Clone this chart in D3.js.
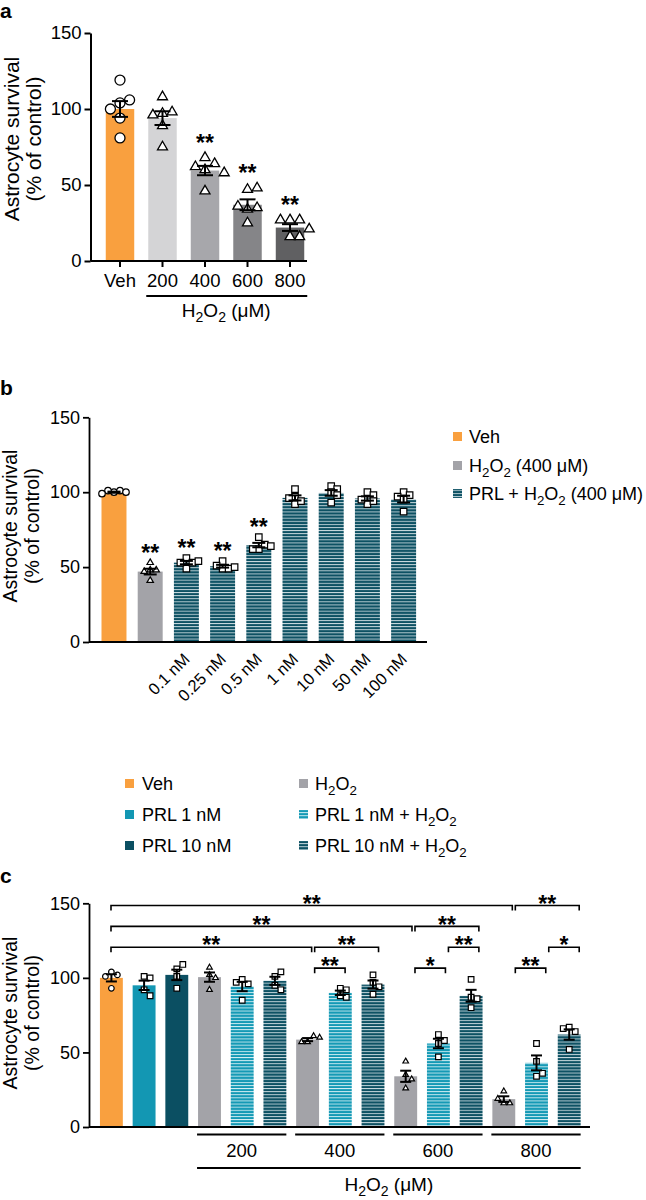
<!DOCTYPE html>
<html><head><meta charset="utf-8">
<script src="https://cdn.jsdelivr.net/npm/d3@7"></script>
<style>
body{margin:0;background:#fff;}
svg{display:block;font-family:"Liberation Sans",Arial,Helvetica,sans-serif;}
</style></head><body>
<svg id="chart" width="646" height="1200"></svg>
<script>
// ---------- Panel a data ----------
const aCategories = ["Veh","200","400","600","800"];
const aMeans = [100, 94, 59.5, 37, 22];
const aPoints = [
  [119,104,106,100,94,81],
  [108,97,98,96,89,75],
  [68,64,62,60,58,46],
  [47,48,34,35,36,25],
  [27,27,27,16,16,21]
];
const aSig = ["","","**","**","**"];
const aShapes = ["circle","triangle","triangle","triangle","triangle"];
const aColors = ["#F9A03F","#D4D4D6","#A7A7AB","#858588","#606062"];
const yTicks = [0,50,100,150];

// ---------- Panel b data ----------
const bCategories = ["Veh","H2O2","0.1 nM","0.25 nM","0.5 nM","1 nM","10 nM","50 nM","100 nM"];
const bLabels = ["","","0.1 nM","0.25 nM","0.5 nM","1 nM","10 nM","50 nM","100 nM"];
const bGroups = ["veh","h2o2","prl10h","prl10h","prl10h","prl10h","prl10h","prl10h","prl10h"];
const bMeans = [100, 47, 53, 50.6, 64.7, 96.2, 99.5, 95.8, 95.4];
const bPoints = [
  [100,101,101,100,99],
  [53,48,48,47,41],
  [56,49,53,53,54],
  [54,49,49,51,50],
  [70,62,65,62,64],
  [102,97,92,94,96],
  [104,102,100,93,98],
  [100,92,98,94,95],
  [100,98,97,87,95]
];
const bSig = ["","**","**","**","**","","","",""];
const bLegend = ["Veh","H2O2 (400 μM)","PRL + H2O2 (400 μM)"];
const bLegendGroups = ["veh","h2o2","prl10h"];

// ---------- Panel c data ----------
const cCategories = ["Veh","PRL 1 nM","PRL 10 nM",
  "H2O2 200","PRL 1 nM + H2O2 200","PRL 10 nM + H2O2 200",
  "H2O2 400","PRL 1 nM + H2O2 400","PRL 10 nM + H2O2 400",
  "H2O2 600","PRL 1 nM + H2O2 600","PRL 10 nM + H2O2 600",
  "H2O2 800","PRL 1 nM + H2O2 800","PRL 10 nM + H2O2 800"];
const cGroups = ["veh","prl1","prl10","h2o2","prl1h","prl10h","h2o2","prl1h","prl10h","h2o2","prl1h","prl10h","h2o2","prl1h","prl10h"];
const cMeans = [100, 95, 102, 100.5, 94.2, 98, 58.6, 90, 95.5, 34, 56, 88, 18.7, 43, 62];
const cPoints = [
  [104,102,101,93],
  [101,100,92,88],
  [106,109,93,101],
  [107,102,100,92],
  [99,96,97,85],
  [101,104,95,92],
  [57,61,57,60],
  [93,92,88,87],
  [102,97,94,89],
  [44,35,32,26],
  [62,58,56,47],
  [99,87,86,80],
  [24,16,16,19],
  [56,44,34,36],
  [67,64,66,52]
];
const cDoses = ["200","400","600","800"];
// [fromIndex, toIndex, label, level]
const cComparisons = [
  [6,7,"**",0],[9,10,"*",0],[12,13,"**",0],
  [0,6,"**",1],[6,8,"**",1],[10,11,"**",1],[13,14,"*",1],
  [0,9,"**",2],[9,11,"**",2],
  [0,12,"**",3],[12,14,"**",3]
];
const cLegendCol1 = ["Veh","PRL 1 nM","PRL 10 nM"];
const cLegendCol1Groups = ["veh","prl1","prl10"];
const cLegendCol2 = ["H2O2","PRL 1 nM + H2O2","PRL 10 nM + H2O2"];
const cLegendCol2Groups = ["h2o2","prl1h","prl10h"];

// ---------- styles ----------
const groupFill = {
  veh:"#F9A03F", h2o2:"#A3A3A8", prl1:"#1397B3", prl10:"#0B4F62",
  prl1h:"url(#stripeCyan)", prl10h:"url(#stripeDark)"
};
const groupShape = {veh:"circle", h2o2:"triangle", prl1:"square", prl10:"square", prl1h:"square", prl10h:"square"};

const svg = d3.select("#chart");
const defs = svg.append("defs");
function stripe(id, base, line) {
  const p = defs.append("pattern").attr("id", id).attr("patternUnits","userSpaceOnUse")
    .attr("width", 6).attr("height", 3.1);
  p.append("rect").attr("width",6).attr("height",3.1).attr("fill",base);
  p.append("rect").attr("width",6).attr("height",0.9).attr("fill",line);
}
stripe("stripeDark","#0D5163","#c9d9de");
stripe("stripeCyan","#1499B5","#d3eef3");

// text with H2O2 subscripts
function richText(sel, s, fs) {
  const segs = [];
  s.split("H2O2").forEach((p, i) => {
    if (i > 0) segs.push(["H",0],["2",1],["O",0],["2",1]);
    if (p) segs.push([p,0]);
  });
  const sh = fs*0.26;
  let cur = 0;
  segs.forEach(([t, sub]) => {
    const ts = sel.append("tspan").text(t);
    if (sub) ts.attr("font-size", fs*0.74);
    if (sub !== cur) ts.attr("dy", sub ? sh : -sh);
    cur = sub;
  });
}

function symbolPath(shape, s) {
  if (shape === "circle") return d3.symbol(d3.symbolCircle, Math.PI*(s/2)*(s/2))();
  if (shape === "square") return d3.symbol(d3.symbolSquare, s*s)();
  return d3.symbol(d3.symbolTriangle, Math.sqrt(3)/4*s*s)();
}

function dodge(values, y, d) {
  const placed = [];
  const cands = [0];
  for (let j = 1; j < 10; j++) cands.push(j*d, -j*d);
  return values.map(v => {
    const py = y(v);
    let off = 0;
    for (const c of cands) {
      if (placed.every(p => Math.hypot(p.x - c, p.y - py) >= d - 0.01)) { off = c; break; }
    }
    placed.push({x: off, y: py});
    return off;
  });
}
const sem = a => d3.deviation(a) / Math.sqrt(a.length);

function yAxis(g, y, axisX, fs, sw) {
  const ax = g.append("g").attr("transform", `translate(${axisX},0)`)
    .call(d3.axisLeft(y).tickValues(yTicks).tickSize(6).tickPadding(3).tickSizeOuter(0));
  ax.attr("font-family",null);
  ax.select(".domain").attr("stroke","#000").attr("stroke-width",sw);
  ax.selectAll(".tick line").attr("stroke","#000").attr("stroke-width",sw);
  ax.selectAll(".tick text").attr("font-size",fs).attr("fill","#000");
}

function yTitle(g, cy, x1, x2, fs) {
  g.append("text").attr("transform",`translate(${x1},${cy}) rotate(-90)`)
    .attr("text-anchor","middle").attr("font-size",fs).text("Astrocyte survival");
  g.append("text").attr("transform",`translate(${x2},${cy}) rotate(-90)`)
    .attr("text-anchor","middle").attr("font-size",fs).text("(% of control)");
}

const STAR = 23;
function stars(g, cx, cy, lab) {
  g.append("text").attr("x", cx).attr("y", cy + 0.57*STAR)
    .attr("text-anchor","middle").attr("font-size",STAR).attr("font-weight","bold").text(lab);
}

function drawBars(g, x, y, means, points, fills, shapes, opt) {
  const bw = x.bandwidth();
  const cats = x.domain();
  cats.forEach((c, i) => {
    g.append("rect").attr("x", x(c)).attr("y", y(means[i]))
      .attr("width", bw).attr("height", y(0) - y(means[i]))
      .attr("fill", fills[i]);
  });
  cats.forEach((c, i) => {
    const cx = x(c) + bw/2;
    const offs = dodge(points[i], y, opt.dodge);
    points[i].forEach((v, k) => {
      g.append("path").attr("d", symbolPath(shapes[i], opt.size))
        .attr("transform", `translate(${cx + offs[k]},${y(v)})`)
        .attr("fill","#fff").attr("stroke","#000").attr("stroke-width", opt.psw);
    });
    const s = sem(points[i]), m = means[i];
    const e = g.append("g").attr("stroke","#000").attr("stroke-width",opt.esw);
    e.append("line").attr("x1",cx).attr("x2",cx).attr("y1",y(m - s)).attr("y2",y(m + s));
    [m - s, m + s].forEach(v => e.append("line").attr("x1",cx - opt.cap/2).attr("x2",cx + opt.cap/2)
      .attr("y1",y(v)).attr("y2",y(v)));
    if (opt.sig && opt.sig[i]) stars(g, cx, y(d3.max(points[i])) - opt.sigGap, opt.sig[i]);
  });
}

function panelLetter(t, x, y) {
  svg.append("text").attr("x",x).attr("y",y).attr("font-size",21).attr("font-weight","bold").text(t);
}

// ================= Panel a =================
{
  const g = svg.append("g");
  const axisX = 90.5;
  const y = d3.scaleLinear().domain([0,150]).range([261,33]);
  const x = d3.scaleBand().domain(aCategories).range([84.5,325.5]).paddingInner(0.33).paddingOuter(0.5);
  panelLetter("a", 0, 18);
  drawBars(g, x, y, aMeans, aPoints, aColors, aShapes,
    {dodge: 9.6, size: 10, psw: 1.3, esw: 2, cap: 16, sig: aSig, sigGap: 20});
  yAxis(g, y, axisX, 18.5, 2);
  g.append("line").attr("x1",axisX).attr("x2",307).attr("y1",y(0)).attr("y2",y(0))
    .attr("stroke","#000").attr("stroke-width",2);
  const xa = g.append("g").attr("transform",`translate(0,${y(0)})`)
    .call(d3.axisBottom(x).tickSize(6).tickPadding(7));
  xa.select(".domain").remove();
  xa.attr("font-family",null);
  xa.selectAll(".tick line").attr("stroke","#000").attr("stroke-width",2);
  xa.selectAll(".tick text").attr("font-size",18.5).attr("fill","#000");
  g.append("line").attr("x1",x(aCategories[1]) - 2).attr("x2",x(aCategories[4]) + x.bandwidth() + 3)
    .attr("y1",296).attr("y2",296).attr("stroke","#000").attr("stroke-width",2);
  const t = g.append("text").attr("x",(x(aCategories[1]) + x(aCategories[4]) + x.bandwidth())/2)
    .attr("y",317).attr("text-anchor","middle").attr("font-size",19);
  richText(t, "H2O2 (μM)", 19);
  yTitle(g, 139, 19, 41, 21);
}

// ================= Panel b =================
{
  const g = svg.append("g");
  const axisX = 89;
  const y = d3.scaleLinear().domain([0,150]).range([642,417.3]);
  const x = d3.scaleBand().domain(bCategories).range([83.4,434.2]).paddingInner(0.31).paddingOuter(0.5);
  panelLetter("b", 0, 395);
  drawBars(g, x, y, bMeans, bPoints, bGroups.map(k => groupFill[k]), bGroups.map(k => groupShape[k]),
    {dodge: 6, size: 6.5, psw: 1.2, esw: 2, cap: 13, sig: bSig, sigGap: 15});
  yAxis(g, y, axisX, 18, 1.8);
  g.append("line").attr("x1",axisX).attr("x2",427).attr("y1",y(0)).attr("y2",y(0))
    .attr("stroke","#000").attr("stroke-width",1.8);
  bCategories.forEach((c, i) => {
    if (!bLabels[i]) return;
    const cx = x(c) + x.bandwidth()/2;
    g.append("text").attr("transform",`translate(${cx - 4},${652}) rotate(-45)`)
      .attr("text-anchor","end").attr("dy","0.71em").attr("font-size",16.5).text(bLabels[i]);
  });
  yTitle(g, 526, 17, 39, 19.5);
  const base = [443, 472, 500];
  bLegend.forEach((s, i) => {
    g.append("rect").attr("x",453).attr("y",base[i] - 11).attr("width",9).attr("height",9)
      .attr("fill", groupFill[bLegendGroups[i]]);
    const t = g.append("text").attr("x",469).attr("y",base[i]).attr("font-size",18);
    richText(t, s, 18);
  });
}

// ================= Panel c =================
{
  const g = svg.append("g");
  const axisX = 89;
  const y = d3.scaleLinear().domain([0,150]).range([1127,903.3]);
  const x = d3.scaleBand().domain(cCategories).range([83.6,597]).paddingInner(0.3).paddingOuter(0.5);
  const bw = x.bandwidth();
  const xc = i => x(cCategories[i]) + bw/2;
  panelLetter("c", 0, 883);
  // legend
  const rows = [790, 821, 852];
  cLegendCol1.forEach((s, i) => {
    g.append("rect").attr("x",125).attr("y",rows[i] - 11).attr("width",9).attr("height",9)
      .attr("fill", groupFill[cLegendCol1Groups[i]]);
    const t = g.append("text").attr("x",142).attr("y",rows[i]).attr("font-size",18);
    richText(t, s, 18);
  });
  cLegendCol2.forEach((s, i) => {
    g.append("rect").attr("x",299).attr("y",rows[i] - 11).attr("width",9).attr("height",9)
      .attr("fill", groupFill[cLegendCol2Groups[i]]);
    const t = g.append("text").attr("x",315).attr("y",rows[i]).attr("font-size",18);
    richText(t, s, 18);
  });
  drawBars(g, x, y, cMeans, cPoints, cGroups.map(k => groupFill[k]), cGroups.map(k => groupShape[k]),
    {dodge: 6, size: 5.6, psw: 1.2, esw: 2, cap: 11});
  yAxis(g, y, axisX, 18, 1.8);
  g.append("line").attr("x1",axisX).attr("x2",590).attr("y1",y(0)).attr("y2",y(0))
    .attr("stroke","#000").attr("stroke-width",1.8);
  // comparisons
  const bx = d3.scaleLinear().domain([xc(0), xc(14)]).range([xc(0) - 0.4, xc(14) + 10]);
  cComparisons.forEach(([i, j, lab, lvl]) => {
    const x1 = bx(xc(i)) + (i > 0 ? 3 : 0), x2 = bx(xc(j));
    const ly = y(106.5 + lvl*14);
    g.append("path").attr("d",`M${x1},${ly + 5}V${ly}H${x2}V${ly + 5}`)
      .attr("fill","none").attr("stroke","#000").attr("stroke-width",1.6);
    stars(g, (x1 + x2)/2, ly - 7, lab);
  });
  // dose groups
  cDoses.forEach((d, k) => {
    const i0 = 3 + k*3, i1 = i0 + 2;
    const x0 = x(cCategories[i0]) - 1, x1 = x(cCategories[i1]) + bw;
    g.append("line").attr("x1",x0).attr("x2",x1).attr("y1",1134.5).attr("y2",1134.5)
      .attr("stroke","#000").attr("stroke-width",2);
    g.append("text").attr("x",(x0 + x1)/2).attr("y",1157).attr("text-anchor","middle")
      .attr("font-size",18.5).text(d);
  });
  const gx0 = x(cCategories[3]) - 1, gx1 = x(cCategories[14]) + bw;
  g.append("line").attr("x1",gx0).attr("x2",gx1).attr("y1",1168).attr("y2",1168)
    .attr("stroke","#000").attr("stroke-width",2);
  const t = g.append("text").attr("x",(gx0 + gx1)/2).attr("y",1191).attr("text-anchor","middle").attr("font-size",19);
  richText(t, "H2O2 (μM)", 19);
  yTitle(g, 1013, 17, 39, 19.5);
}
</script>
</body></html>
